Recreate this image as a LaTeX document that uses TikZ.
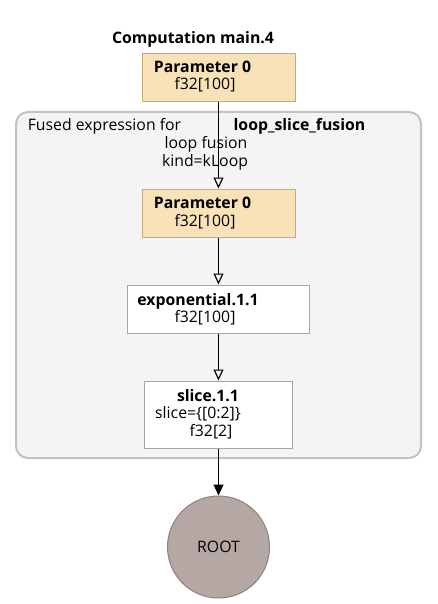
\documentclass[tikz,border=0pt]{standalone}
\usepackage{fontspec}
\setmainfont{Open Sans}
\usepackage{xcolor}
\usetikzlibrary{positioning}
\usetikzlibrary{arrows.meta}

\definecolor{paramfill}{HTML}{F9E1B8}
\definecolor{paramdraw}{HTML}{C9A97A}
\definecolor{clusterfill}{HTML}{F4F4F4}
\definecolor{clusterdraw}{HTML}{C2C2C2}
\definecolor{opdraw}{HTML}{A6A6A6}
\definecolor{rootfill}{HTML}{B5A8A4}
\definecolor{rootdraw}{HTML}{8E817D}

\begin{document}
\begin{tikzpicture}[
    x=1pt, y=-1pt,
    font=\fontsize{15.8}{18}\selectfont,
    param/.style={rectangle, draw=paramdraw, fill=paramfill, line width=1pt, inner sep=+0pt, minimum width=153pt, minimum height=48pt},
    opbox/.style={rectangle, draw=opdraw, fill=white, line width=1pt, inner sep=+0pt},
    txt/.style={inner sep=+0pt, anchor=base},
    hollow/.style={-{Triangle[open, length=11pt, width=10pt]}, line width=1.2pt},
    solid/.style={-{Triangle[length=11pt, width=10pt]}, line width=1.2pt}
    ]
\useasboundingbox (0,0) rectangle (437,604);

% cluster
\node[rectangle, draw=clusterdraw, fill=clusterfill, line width=2pt, rounded corners=12pt, minimum width=405pt, minimum height=346pt] (cluster) at (218.5,285) {};
\node[txt] (clA) at (104.5,131) {Fused expression for};
\node[txt] (clB) at (299.5,131) {\bfseries loop\_slice\_fusion};
\node[txt] (clC) at (206,149) {loop fusion};
\node[txt] (clD) at (205,166) {kind=kLoop};

% title
\node[txt] (title) at (193,44) {\bfseries Computation main.4};

% nodes
\node[param] (p0) at (218.5,77.5) {};
\node[txt] at (202.5,73) {\bfseries Parameter 0};
\node[txt] at (205,90) {f32[100]};

\node[param] (p1) at (218.5,213) {};
\node[txt] at (202.5,208) {\bfseries Parameter 0};
\node[txt] at (205,226) {f32[100]};

\node[opbox, minimum width=182pt, minimum height=48pt] (exp) at (218.5,309) {};
\node[txt] at (198,305) {\bfseries exponential.1.1};
\node[txt] at (205,322) {f32[100]};

\node[opbox, minimum width=148pt, minimum height=67pt] (slice) at (218.5,414.5) {};
\node[txt] at (208,401) {\bfseries slice.1.1};
\node[txt] at (198,418) {slice=\{[0:2]\}};
\node[txt] at (211,436) {f32[2]};

\node[circle, draw=rootdraw, fill=rootfill, line width=1pt, minimum size=102pt, inner sep=+0pt] (root) at (218.5,547) {ROOT};

% edges
\draw[hollow] (p0.south) -- (p1.north);
\draw[hollow] (p1.south) -- (exp.north);
\draw[hollow] (exp.south) -- (slice.north);
\draw[solid] (slice.south) -- (root.north);

\end{tikzpicture}
\end{document}
